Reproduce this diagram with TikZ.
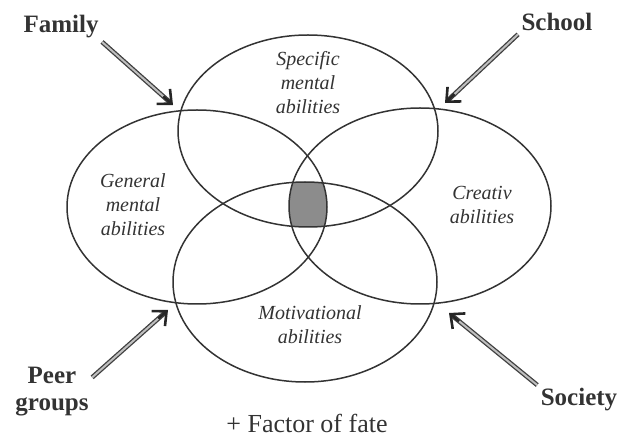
\documentclass[tikz,border=0pt]{standalone}
\usepackage{fontspec}
\setmainfont{Liberation Serif}
\usetikzlibrary{arrows.meta,calc}
\tikzset{
	ring/.style={draw=black!80, line width=1.5pt},
	factor/.style={font=\bfseries\fontsize{25}{27}\selectfont, text=black!80, align=center},
	ability/.style={font=\itshape\fontsize{20}{24}\selectfont, text=black!80, align=center},
	influence/.style={draw=black!75, double=black!25, double distance=2pt, line width=1.3pt, shorten >=4pt},
	barb/.style={draw=black!85, line width=2.6pt, -{Straight Barb[length=11pt, width=20pt]}}
}
\begin{document}
\begin{tikzpicture}[x=1pt,y=-1pt]
				\useasboundingbox (0,0) rectangle (621,438);
				\coordinate (spec) at (308,131);
				\coordinate (gen) at (197,207);
				\coordinate (crea) at (420,206);
				\coordinate (moti) at (305,282);
				\begin{scope}
					\clip (spec) ellipse [x radius=130, y radius=96];
					\clip (gen) ellipse [x radius=130, y radius=97];
					\clip (crea) ellipse [x radius=131, y radius=98];
					\clip (moti) ellipse [x radius=132, y radius=100];
					\fill[black!45] (270,170) rectangle (350,240);
				\end{scope}
				\draw[ring] (spec) ellipse [x radius=130, y radius=96];
				\draw[ring] (gen) ellipse [x radius=130, y radius=97];
				\draw[ring] (crea) ellipse [x radius=131, y radius=98];
				\draw[ring] (moti) ellipse [x radius=132, y radius=100];
				\node[ability] (spectext) at (308,83) {Specific\\mental\\abilities};
				\node[ability] (gentext) at (133,205) {General\\mental\\abilities};
				\node[ability] (creatext) at (482,205) {Creativ\\abilities};
				\node[ability] (motitext) at (310,325) {Motivational\\abilities};
				\node[factor] (family) at (61,27) {Family};
				\node[factor] (school) at (557,22) {School};
				\node[factor] (peer) at (52,392) {Peer\\groups};
				\node[factor] (society) at (579,400) {Society};
				\node[font=\fontsize{26}{28}\selectfont, text=black!80] (fate) at (307,423) {+ Factor of fate};
				\coordinate (famtip) at (173,105);
				\coordinate (schtip) at (445,103);
				\coordinate (peertip) at (168,310);
				\coordinate (soctip) at (449,313);
				\foreach \src/\tip in {family.south east/famtip, school.south west/schtip, peer.20/peertip, society.north west/soctip}{
					\draw[influence] (\src) -- (\tip);
					\draw[barb] ($(\tip)!13pt!(\src)$) -- (\tip);
				}
				\end{tikzpicture}
\end{document}
